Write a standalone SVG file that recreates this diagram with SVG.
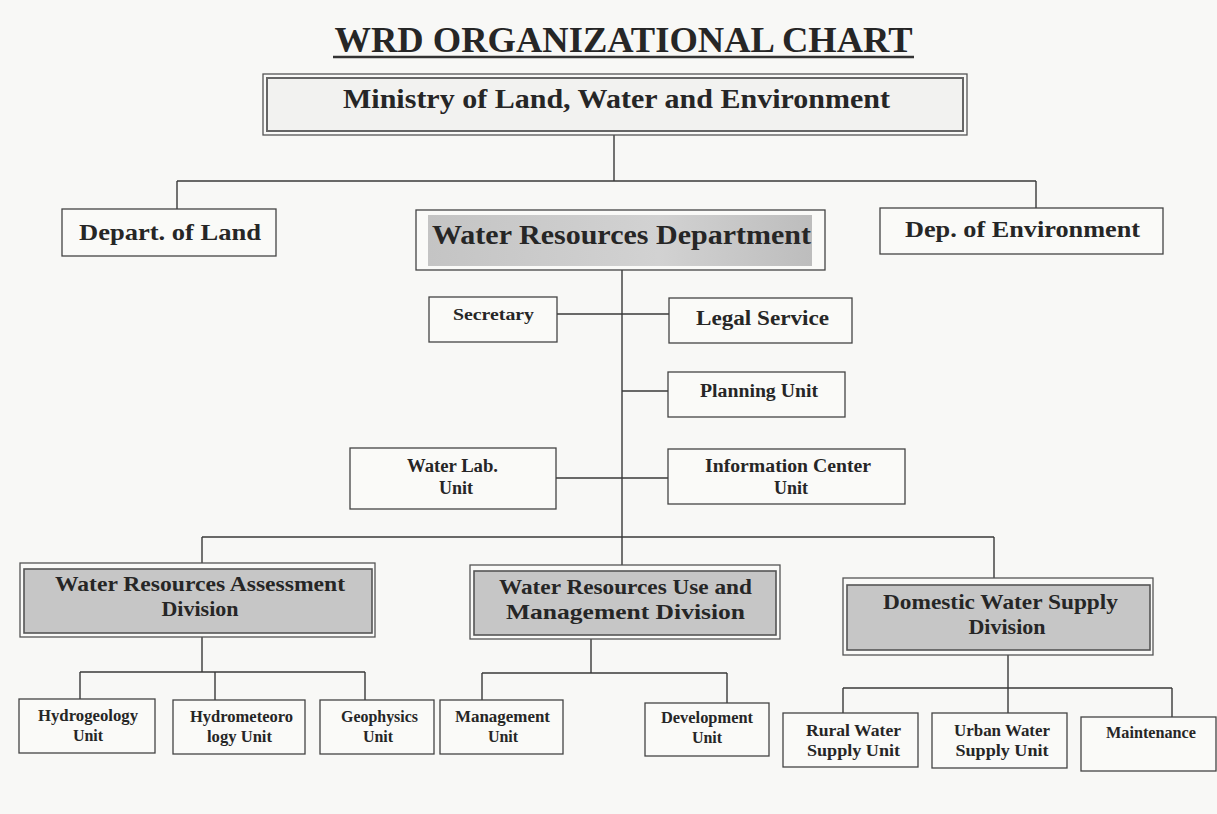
<svg xmlns="http://www.w3.org/2000/svg" width="1217" height="814" viewBox="0 0 1217 814">
<style>
.t{font-family:"Liberation Serif","Times New Roman",serif;font-weight:bold;fill:#262626;text-anchor:middle}
.box{fill:#fafaf8;stroke:#444;stroke-width:1.3}
.outer{fill:#fafaf8;stroke:#555;stroke-width:1.3}
.shade{fill:#c6c6c6;stroke:#555;stroke-width:1.6}
.ln{stroke:#3a3a3a;stroke-width:1.4;fill:none}
.s{font-size:16px}
.m{font-size:18px}
.d{font-size:22px}
</style>
<defs>
<linearGradient id="g1" x1="0" y1="0" x2="1" y2="0">
<stop offset="0" stop-color="#c4c4c4"/><stop offset="0.6" stop-color="#d2d2d2"/><stop offset="1" stop-color="#bdbdbd"/>
</linearGradient>
</defs>
<rect width="1217" height="814" fill="#f8f8f6"/>
<g id="title">
<text class="t" x="623.5" y="52" font-size="36" textLength="578" lengthAdjust="spacingAndGlyphs">WRD ORGANIZATIONAL CHART</text>
<line x1="333" y1="57" x2="914" y2="57" stroke="#333" stroke-width="2.5"/>
</g>
<g id="connectors">
<path class="ln" d="M614 135V181M177 181H1036M177 181V209M1036 181V208"/>
<path class="ln" d="M622 270V566M557 314H669M622 391H668M556 478H668"/>
<path class="ln" d="M202 537H994M202 537V563M994 537V578"/>
<path class="ln" d="M202 637V672M80 672H365M80 672V699M215 672V700M365 672V700"/>
<path class="ln" d="M591 639V673M482 673H727M482 673V700M727 673V703"/>
<path class="ln" d="M1008 655V688M843 688H1172M843 688V713M1008 688V713M1172 688V717"/>
</g>
<g id="ministry">
<rect class="outer" x="263" y="74" width="704" height="61"/>
<rect x="267" y="78" width="696" height="53" fill="#f2f2f0" stroke="#666" stroke-width="2"/>
<text class="t" x="616.5" y="108" font-size="27" textLength="547" lengthAdjust="spacingAndGlyphs">Ministry of Land, Water and Environment</text>
</g>
<g id="depart-land">
<rect class="box" x="62" y="209" width="214" height="47"/>
<text class="t" x="170" y="240" font-size="24" textLength="182" lengthAdjust="spacingAndGlyphs">Depart. of Land</text>
</g>
<g id="wrd">
<rect class="box" x="416" y="210" width="409" height="60"/>
<rect x="428" y="215" width="384" height="51" fill="url(#g1)"/>
<text class="t" x="621.5" y="244" font-size="27" textLength="379" lengthAdjust="spacingAndGlyphs">Water Resources Department</text>
</g>
<g id="dep-env">
<rect class="box" x="880" y="208" width="283" height="46"/>
<text class="t" x="1022.5" y="237" font-size="24" textLength="235" lengthAdjust="spacingAndGlyphs">Dep. of Environment</text>
</g>
<g id="secretary">
<rect class="box" x="429" y="297" width="128" height="45"/>
<text class="t" x="493.5" y="320" font-size="17" textLength="81" lengthAdjust="spacingAndGlyphs">Secretary</text>
</g>
<g id="legal">
<rect class="box" x="669" y="298" width="183" height="45"/>
<text class="t" x="762.5" y="325" font-size="21.5" textLength="133" lengthAdjust="spacingAndGlyphs">Legal Service</text>
</g>
<g id="planning">
<rect class="box" x="668" y="372" width="177" height="45"/>
<text class="t" x="759" y="397" font-size="18" textLength="118" lengthAdjust="spacingAndGlyphs">Planning Unit</text>
</g>
<g id="waterlab">
<rect class="box" x="350" y="448" width="206" height="61"/>
<text class="t m" x="452.5" y="472" textLength="91" lengthAdjust="spacingAndGlyphs">Water Lab.</text>
<text class="t m" x="456" y="494">Unit</text>
</g>
<g id="infocenter">
<rect class="box" x="668" y="449" width="237" height="55"/>
<text class="t m" x="788" y="472" textLength="166" lengthAdjust="spacingAndGlyphs">Information Center</text>
<text class="t m" x="791" y="494">Unit</text>
</g>
<g id="assessment">
<rect class="outer" x="20" y="563" width="355" height="74"/>
<rect class="shade" x="24" y="569" width="348" height="64"/>
<text class="t d" x="200" y="591" textLength="290" lengthAdjust="spacingAndGlyphs">Water Resources Assessment</text>
<text class="t d" x="200" y="616">Division</text>
</g>
<g id="use-management">
<rect class="outer" x="470" y="565" width="310" height="74"/>
<rect class="shade" x="474" y="571" width="302" height="64"/>
<text class="t d" x="625.5" y="594" textLength="253" lengthAdjust="spacingAndGlyphs">Water Resources Use and</text>
<text class="t d" x="625.5" y="619" textLength="239" lengthAdjust="spacingAndGlyphs">Management Division</text>
</g>
<g id="domestic">
<rect class="outer" x="843" y="578" width="310" height="77"/>
<rect class="shade" x="847" y="585" width="303" height="65"/>
<text class="t d" x="1000.5" y="609" textLength="235" lengthAdjust="spacingAndGlyphs">Domestic Water Supply</text>
<text class="t d" x="1007" y="634">Division</text>
</g>
<g id="hydrogeology">
<rect class="box" x="19" y="699" width="136" height="54"/>
<text class="t s" x="88" y="721" textLength="100" lengthAdjust="spacingAndGlyphs">Hydrogeology</text>
<text class="t s" x="88" y="741">Unit</text>
</g>
<g id="hydrometeorology">
<rect class="box" x="173" y="700" width="132" height="54"/>
<text class="t s" x="241.5" y="722" textLength="103" lengthAdjust="spacingAndGlyphs">Hydrometeoro</text>
<text class="t s" x="239.5" y="742" textLength="65" lengthAdjust="spacingAndGlyphs">logy Unit</text>
</g>
<g id="geophysics">
<rect class="box" x="320" y="700" width="114" height="54"/>
<text class="t s" x="379.5" y="722" textLength="77" lengthAdjust="spacingAndGlyphs">Geophysics</text>
<text class="t s" x="378" y="742">Unit</text>
</g>
<g id="management">
<rect class="box" x="440" y="700" width="123" height="54"/>
<text class="t s" x="502.5" y="722" textLength="95" lengthAdjust="spacingAndGlyphs">Management</text>
<text class="t s" x="503" y="742">Unit</text>
</g>
<g id="development">
<rect class="box" x="645" y="703" width="124" height="53"/>
<text class="t s" x="707" y="723" textLength="92" lengthAdjust="spacingAndGlyphs">Development</text>
<text class="t s" x="707" y="743">Unit</text>
</g>
<g id="rural">
<rect class="box" x="783" y="713" width="135" height="54"/>
<text class="t s" x="853.5" y="736" textLength="95" lengthAdjust="spacingAndGlyphs">Rural Water</text>
<text class="t s" x="853.5" y="756" textLength="93" lengthAdjust="spacingAndGlyphs">Supply Unit</text>
</g>
<g id="urban">
<rect class="box" x="932" y="713" width="135" height="55"/>
<text class="t s" x="1002" y="736" textLength="96" lengthAdjust="spacingAndGlyphs">Urban Water</text>
<text class="t s" x="1002" y="756" textLength="93" lengthAdjust="spacingAndGlyphs">Supply Unit</text>
</g>
<g id="maintenance">
<rect class="box" x="1081" y="717" width="135" height="54"/>
<text class="t s" x="1151" y="738" textLength="90" lengthAdjust="spacingAndGlyphs">Maintenance</text>
</g>
</svg>
